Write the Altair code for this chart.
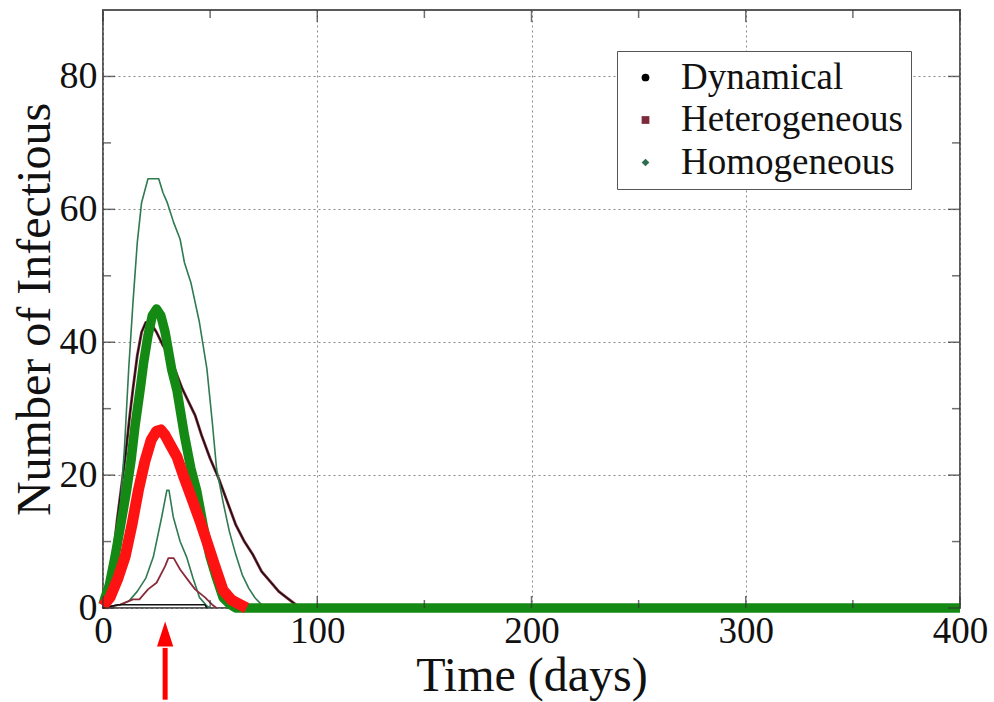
import altair as alt
import pandas as pd

# ---- data (day, number of infectious) ----
hom_max_day = [0, 2, 4, 6, 8, 10, 12, 14, 16, 18, 21, 26, 28, 30, 33, 36, 38, 41, 45, 48.5, 51, 53, 56, 59, 62, 65, 68, 71, 74, 76]
hom_max_val = [0, 1, 4, 9, 15, 24, 36, 46, 55, 61, 64.6, 64.6, 62.5, 61, 58, 55.5, 52, 49, 43, 36, 28, 21, 16, 11.5, 8, 5, 3, 1.5, 0.5, 0]

dyn_max_day = [0, 2.5, 4.5, 6.5, 8.5, 10.5, 12.5, 14, 16, 18, 20, 22, 25, 28, 31, 34, 37, 40, 43, 46, 50, 54, 58, 62, 66, 70, 74, 78, 82, 86, 90, 93]
dyn_max_val = [0, 2.5, 7, 13, 18, 23, 29, 33, 38, 41.5, 43, 43, 41.5, 39.5, 38, 35.5, 33, 31, 29, 26, 22.5, 19.5, 16, 12.5, 10, 8, 5.5, 4, 2.5, 1.5, 0.5, 0]

het_max_day = [0, 2.5, 4.5, 6.5, 8.5, 10.5, 12.5, 14, 16, 18, 20, 22, 25, 28, 31, 34, 37, 40, 43, 46, 50, 54, 58, 62, 66, 70, 74, 78, 82, 86, 90, 93]
het_max_val = [0, 2.5, 7, 13, 18, 23, 29, 33, 38, 41.5, 43, 43, 41.5, 39.5, 38, 35.5, 33, 31, 29, 26, 22.5, 19.5, 16, 12.5, 10, 8, 5.5, 4, 2.5, 1.5, 0.5, 0]

hom_mean_day = [0, 1, 3, 5.6, 8, 11, 13, 15, 17.3, 19, 21, 23, 25, 27, 29, 32, 34.5, 38, 41, 43.7, 47, 50, 53, 56, 59, 62, 400]
hom_mean_val = [0.5, 1.6, 3.5, 7.7, 12, 17.7, 22, 27.5, 32.8, 37, 41, 44, 45, 44, 41.5, 36, 32.8, 26, 21, 17.7, 12, 7.7, 4.5, 1.6, 0.6, 0, 0]

het_mean_day = [0, 3.3, 7, 10.3, 13.5, 16.5, 19.5, 22.5, 25, 27, 29, 31.5, 34.6, 38, 42, 45.6, 49, 52, 56, 60, 64, 67]
het_mean_val = [0.3, 1.6, 4.5, 7.7, 12.5, 17.7, 22, 25.3, 26.6, 26.8, 26, 24.5, 22.7, 19.5, 16, 12.8, 9.5, 6.5, 2.7, 1.2, 0.5, 0]

hom_min_day = [0, 8, 12, 16, 20, 23.5, 27.4, 29.8, 30.8, 32.8, 36, 39, 42, 45, 48.5, 50]
hom_min_val = [0, 0.5, 1, 2.5, 4.5, 7.7, 13.7, 17.7, 17.7, 13.7, 10, 7.7, 4.5, 1.6, 0.3, 0]

het_min_day = [0, 8, 14, 17, 21, 25, 29, 30.5, 33, 36, 39.7, 43, 47.6, 51, 53]
het_min_val = [0, 0.5, 1.3, 1.3, 2.8, 3.8, 6.3, 7.5, 7.5, 5.8, 4.2, 2.8, 1.6, 0.5, 0]

dyn_min_day = [0, 7, 47.5, 48.5]
dyn_min_val = [0, 0.5, 0.5, 0]

legend_models = ["Dynamical", "Heterogeneous", "Homogeneous"]
legend_colors = ["#000000", "#7d2a3c", "#2e6e4e"]
legend_shapes = ["circle", "square", "diamond"]

x_major = [0, 100, 200, 300, 400]
x_minor = [50, 150, 250, 350]
y_major = [0, 20, 40, 60, 80]
y_minor = [10, 30, 50, 70]

arrow_day = [29]
arrow_tail = [-13.8]
arrow_shaft_end = [-6]
arrow_head = [-3.9]

SERIF = "Liberation Serif"
X_SCALE = alt.Scale(domain=[0, 400], nice=False, zero=False)
Y_SCALE = alt.Scale(domain=[0, 90], nice=False, zero=False)

series_specs = [
    ("Heterogeneous max", het_max_day, het_max_val, "#8a2c3c", 2.8),
    ("Dynamical max", dyn_max_day, dyn_max_val, "#111111", 1.3),
    ("Homogeneous max", hom_max_day, hom_max_val, "#2f7a50", 1.6),
    ("Homogeneous min", hom_min_day, hom_min_val, "#2f7a50", 1.6),
    ("Heterogeneous min", het_min_day, het_min_val, "#8a2c3c", 1.8),
    ("Dynamical min", dyn_min_day, dyn_min_val, "#111111", 1.5),
    ("Homogeneous mean", hom_mean_day, hom_mean_val, "#148a14", 9.5),
    ("Heterogeneous mean", het_mean_day, het_mean_val, "#ff1212", 11),
]

x_axis = alt.Axis(
    values=x_major, grid=True, gridDash=[2, 3], gridColor="#8a8a8a", gridWidth=1,
    ticks=False, tickSize=0, domain=False, labelFont=SERIF, labelFontSize=37,
    labelColor="#111111", labelPadding=5, labelFlush=False, labelOverlap=False,
    labelBound=False, title="Time (days)", titleFont=SERIF, titleFontSize=48,
    titleFontWeight="normal", titleColor="#111111", titleBaseline="alphabetic",
    titleY=82,
)
y_axis = alt.Axis(
    values=y_major, grid=True, gridDash=[2, 3], gridColor="#8a8a8a", gridWidth=1,
    ticks=False, tickSize=0, domain=False, labelFont=SERIF, labelFontSize=38,
    labelColor="#111111", labelPadding=6, labelOverlap=False, labelBound=False,
    labelFlush=False, title="Number of Infectious", titleFont=SERIF, titleFontSize=48,
    titleFontWeight="normal", titleColor="#111111", titleBaseline="alphabetic",
    titleAngle=270, titleX=-54, titleY=299,
)

LEGEND = alt.Legend(
    title=None, orient="none", legendX=514, legendY=41,
    labelFont=SERIF, labelFontSize=37, labelColor="#111111",
    labelOffset=17, symbolOffset=2, symbolSize=60,
    symbolOpacity=1, symbolStrokeWidth=0, rowPadding=4.5,
    padding=8, strokeColor="#555555", fillColor="#ffffff",
    labelLimit=400)

layers = []

# legend layer (invisible marks, legend drawn from them)
legend_df = pd.DataFrame({"model": legend_models, "day": [0, 0, 0], "val": [0, 0, 0]})
legend_layer = alt.Chart(legend_df).mark_point(filled=True, opacity=0, size=60).encode(
    x=alt.X("day:Q", scale=X_SCALE, axis=x_axis),
    y=alt.Y("val:Q", scale=Y_SCALE, axis=y_axis),
    color=alt.Color("model:N", scale=alt.Scale(domain=legend_models, range=legend_colors),
                    legend=LEGEND),
    shape=alt.Shape("model:N", scale=alt.Scale(domain=legend_models, range=legend_shapes),
                    legend=LEGEND),
)
layers.append(legend_layer)

for name, days, vals, col, w in series_specs:
    df = pd.DataFrame({"day": days, "val": vals, "series": name})
    layers.append(
        alt.Chart(df).mark_line(color=col, strokeWidth=w, strokeJoin="round").encode(
            x=alt.X("day:Q", scale=X_SCALE),
            y=alt.Y("val:Q", scale=Y_SCALE),
            order="day:Q",
        )
    )

# inward ticks on all four sides
def tick_layer(vals, axis_ch, fixed, size, offset):
    df = pd.DataFrame({"t": vals})
    if axis_ch == "x":
        enc = dict(x=alt.X("t:Q", scale=X_SCALE), y=alt.YDatum(fixed))
        m = alt.Chart(df).mark_tick(orient="vertical", size=size, thickness=1.5,
                                    color="#333333", yOffset=offset)
    else:
        enc = dict(y=alt.Y("t:Q", scale=Y_SCALE), x=alt.XDatum(fixed))
        m = alt.Chart(df).mark_tick(orient="horizontal", size=size, thickness=1.5,
                                    color="#333333", xOffset=offset)
    return m.encode(**enc)

layers += [
    tick_layer(x_major, "x", 0, 12, -6), tick_layer(x_minor, "x", 0, 8, -4),
    tick_layer(x_major, "x", 90, 12, 6), tick_layer(x_minor, "x", 90, 8, 4),
    tick_layer(y_major, "y", 0, 12, 6), tick_layer(y_minor, "y", 0, 8, 4),
    tick_layer(y_major, "y", 400, 12, -6), tick_layer(y_minor, "y", 400, 8, -4),
]

# red arrow annotation below the axis
arrow_df = pd.DataFrame({"d": arrow_day, "y1": arrow_tail, "y2": arrow_shaft_end, "yh": arrow_head})
layers.append(
    alt.Chart(arrow_df).mark_rule(color="#ff0000", strokeWidth=5).encode(
        x=alt.X("d:Q", scale=X_SCALE), y=alt.Y("y1:Q", scale=Y_SCALE), y2="y2:Q")
)
layers.append(
    alt.Chart(arrow_df).mark_point(shape="M-0.65,1L0.65,1L0,-1Z", filled=True, opacity=1,
                                   color="#ff0000", size=625, strokeWidth=0).encode(
        x=alt.X("d:Q", scale=X_SCALE), y=alt.Y("yh:Q", scale=Y_SCALE))
)

chart = alt.layer(*layers).properties(
    width=857, height=598,
    autosize=alt.AutoSizeParams(type="none"),
    padding={"left": 103, "top": 10, "right": 34, "bottom": 94},
    background="#ffffff",
).configure_view(stroke="#5a5a5a", strokeWidth=2)

chart.save("out.html", embed_options={"renderer": "svg", "actions": False})
